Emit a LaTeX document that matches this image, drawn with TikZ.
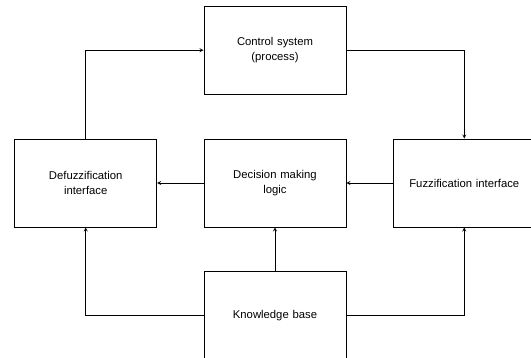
\documentclass[tikz,border=0pt]{standalone}
\usepackage{fontspec}
\setmainfont{Liberation Sans}
\usetikzlibrary{arrows, positioning}
\tikzstyle{block} = [rectangle, draw, line width=0.8pt, text centered, minimum width=142pt, minimum height=88pt, text width=130pt, font=\fontsize{11.3}{14.5}\selectfont]
\tikzstyle{arrow} = [line width=0.8pt,->,>=stealth]

\begin{document}
\begin{tikzpicture}[node distance=44pt and 46.5pt]
        \path[use as bounding box, clip] (-275pt,-175pt) rectangle (256pt,183pt);
        \node[block] (logic) {Decision making\\logic};
        \node[block, above=of logic] (control) {Control system\\(process)};
        \node[block, below=of logic] (kbase) {Knowledge base};
        \node[block, left=of logic] (defuzz) {Defuzzification\\interface};
        \node[block, right=of logic] (fuzz) {Fuzzification interface};
        \draw[arrow] (defuzz.north) |- (control.west);
        \draw[arrow] (control.east) -| (fuzz.north);
        \draw[arrow] (fuzz) -- (logic);
        \draw[arrow] (logic) -- (defuzz);
        \draw[arrow] (kbase) -- (logic);
        \draw[arrow] (kbase.west) -| (defuzz.south);
        \draw[arrow] (kbase.east) -| (fuzz.south);
    \end{tikzpicture}
\end{document}
